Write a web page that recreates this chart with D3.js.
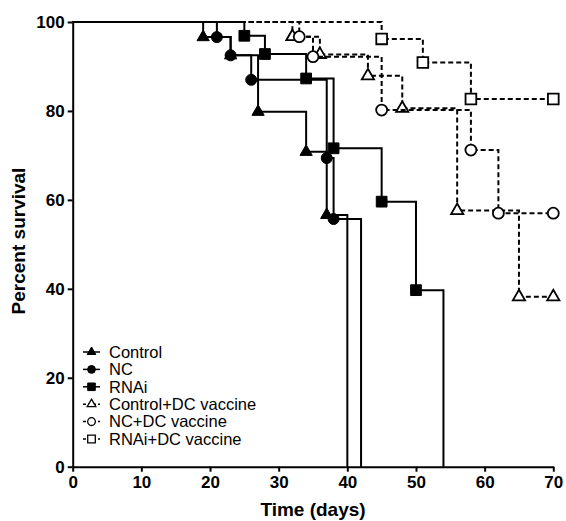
<!DOCTYPE html>
<html>
<head>
<meta charset="utf-8">
<script src="https://cdn.jsdelivr.net/npm/d3@7"></script>
<style>
  body { margin: 0; background: #fff; }
  svg { font-family: "Liberation Sans", Arial, sans-serif; }
</style>
</head>
<body>
<div id="chart"></div>
<script>
// survival data (days / percent)
const seriesNames = ["Control", "NC", "RNAi", "Control+DC vaccine", "NC+DC vaccine", "RNAi+DC vaccine"];

const controlDays = [19, 23, 27, 34, 37, 40];
const controlSurv = [96.6, 92.5, 79.8, 70.8, 56.6, 0];

const ncDays = [21, 23, 26, 37, 38, 42];
const ncSurv = [96.6, 92.5, 87.0, 69.4, 55.7, 0];

const rnaiDays = [25, 28, 34, 38, 45, 50, 54];
const rnaiSurv = [96.9, 92.8, 87.3, 71.6, 59.6, 39.7, 0];

const controlDcDays = [32, 36, 43, 48, 56, 65, 70];
const controlDcSurv = [96.7, 92.7, 87.9, 80.6, 57.6, 38.2, 38.2];

const ncDcDays = [33, 35, 45, 58, 62, 70];
const ncDcSurv = [96.7, 92.2, 80.2, 71.2, 57.0, 57.0];

const rnaiDcDays = [45, 51, 58, 70];
const rnaiDcSurv = [96.2, 90.9, 82.7, 82.7];

const xTicks = [0, 10, 20, 30, 40, 50, 60, 70];
const yTicks = [0, 20, 40, 60, 80, 100];

const width = 566, height = 521;
const margin = {top: 22, right: 12.7, bottom: 54.3, left: 72.7};

const svg = d3.select("#chart").append("svg")
    .attr("width", width)
    .attr("height", height);

const x = d3.scaleLinear().domain([0, 70]).range([margin.left, width - margin.right]);
const y = d3.scaleLinear().domain([0, 100]).range([height - margin.bottom, margin.top]);

const series = [
    {name: seriesNames[0], days: controlDays, surv: controlSurv, symbol: d3.symbolTriangle, filled: true, dashed: false},
    {name: seriesNames[1], days: ncDays, surv: ncSurv, symbol: d3.symbolCircle, filled: true, dashed: false},
    {name: seriesNames[2], days: rnaiDays, surv: rnaiSurv, symbol: d3.symbolSquare, filled: true, dashed: false},
    {name: seriesNames[3], days: controlDcDays, surv: controlDcSurv, symbol: d3.symbolTriangle, filled: false, dashed: true},
    {name: seriesNames[4], days: ncDcDays, surv: ncDcSurv, symbol: d3.symbolCircle, filled: false, dashed: true},
    {name: seriesNames[5], days: rnaiDcDays, surv: rnaiDcSurv, symbol: d3.symbolSquare, filled: false, dashed: true}
];

const symSize = s => s === d3.symbolTriangle ? 65 : (s === d3.symbolCircle ? 95 : 115);

const step = d3.line()
    .x(d => x(d[0]))
    .y(d => y(d[1]))
    .curve(d3.curveStepAfter);

// axes
const xAxis = svg.append("g")
    .attr("transform", `translate(0,${y(0)})`)
    .call(d3.axisBottom(x).tickValues(xTicks).tickSize(5).tickSizeOuter(0).tickPadding(4));

const yAxis = svg.append("g")
    .attr("transform", `translate(${x(0)},0)`)
    .call(d3.axisLeft(y).tickValues(yTicks).tickSize(5).tickSizeOuter(0).tickPadding(3));

[xAxis, yAxis].forEach(a => {
    a.select(".domain").attr("stroke", "#000").attr("stroke-width", 2);
    a.selectAll(".tick line").attr("stroke", "#000").attr("stroke-width", 2);
    a.selectAll(".tick text")
        .attr("fill", "#000")
        .style("font-size", "17px")
        .style("font-weight", "bold")
        .style("font-family", "'Liberation Sans', Arial, sans-serif");
});

// dashed groups first so the solid lines sit on top at 100%
const order = [3, 4, 5, 0, 1, 2];
order.forEach(i => {
    const s = series[i];
    const pts = [[0, 100]].concat(s.days.map((d, k) => [d, s.surv[k]]));

    svg.append("path")
        .attr("d", step(pts))
        .attr("fill", "none")
        .attr("stroke", "#000")
        .attr("stroke-width", 2)
        .attr("stroke-dasharray", s.dashed ? "5,3" : null);

    svg.selectAll(null)
        .data(pts.slice(1).filter(p => p[1] > 0))
        .enter()
        .append("path")
        .attr("transform", p => `translate(${x(p[0])},${y(p[1])})`)
        .attr("d", d3.symbol().type(s.symbol).size(symSize(s.symbol)))
        .attr("fill", s.filled ? "#000" : "#fff")
        .attr("stroke", "#000")
        .attr("stroke-width", s.filled ? 1 : 1.8);
});

// legend
const legend = svg.append("g");
series.forEach((s, i) => {
    const ly = 352 + i * 17.4;
    legend.append("line")
        .attr("x1", 83).attr("x2", 100)
        .attr("y1", ly).attr("y2", ly)
        .attr("stroke", "#000")
        .attr("stroke-width", 1.5)
        .attr("stroke-dasharray", s.dashed ? "3,2" : null);
    legend.append("path")
        .attr("transform", `translate(91.5,${ly})`)
        .attr("d", d3.symbol().type(s.symbol).size(symSize(s.symbol) * 0.5))
        .attr("fill", s.filled ? "#000" : "#fff")
        .attr("stroke", "#000")
        .attr("stroke-width", s.filled ? 1 : 1.3);
    legend.append("text")
        .attr("x", 109)
        .attr("y", ly + 5.8)
        .style("font-size", "16.5px")
        .text(s.name);
});

// axis titles
svg.append("text")
    .attr("x", (x(0) + x(70)) / 2)
    .attr("y", 515.5)
    .attr("text-anchor", "middle")
    .style("font-size", "19px")
    .style("font-weight", "bold")
    .text("Time (days)");

svg.append("text")
    .attr("transform", "translate(25,241) rotate(-90)")
    .attr("text-anchor", "middle")
    .style("font-size", "19px")
    .style("font-weight", "bold")
    .text("Percent survival");
</script>
</body>
</html>
